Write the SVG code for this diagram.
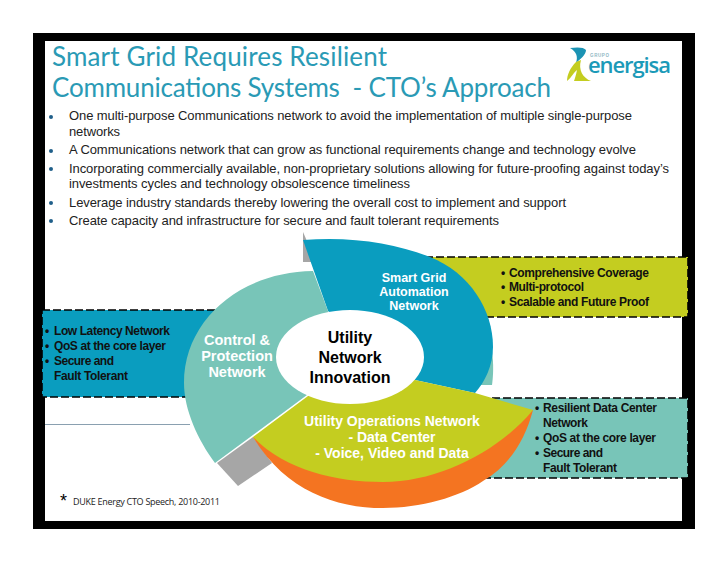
<svg xmlns="http://www.w3.org/2000/svg" width="728" height="563" viewBox="0 0 728 563">
<style>
.title{font-family:Lato,"Open Sans",sans-serif;font-size:26px;fill:#2a9ab5;white-space:pre}
.body{font-family:"Liberation Sans",Arial,sans-serif;font-size:13px;fill:#222}
.bul{fill:#1f5f8a}
.box{stroke:#000;stroke-width:1.6;stroke-dasharray:8 3}
.bt{font-family:"Liberation Sans",Arial,sans-serif;font-size:12px;font-weight:700;fill:#111}
.wt{font-family:"Liberation Sans",Arial,sans-serif;font-weight:700;fill:#fff;text-anchor:middle}
.ct{font-family:"Liberation Sans",Arial,sans-serif;font-size:16px;font-weight:700;fill:#000;text-anchor:middle}
</style>
<rect width="728" height="563" fill="#fff"/>
<g id="frame">
<rect x="33" y="33" width="662" height="496" fill="#000"/>
<rect x="45" y="41" width="637" height="480" fill="#fff"/>
<line x1="45" y1="424.500" x2="190" y2="424.500" stroke="#8aa0b0" stroke-width="1"/>
</g>
<g id="title">
<text class="title" x="52" y="66" textLength="335">Smart Grid Requires Resilient</text>
<text class="title" x="52" y="97" textLength="499">Communications Systems  - CTO’s Approach</text>
</g>
<g id="logo">
<path d="M570 48 C577 47 584 47 586 50 C586 55 580 59 576 63 C578 57 577 52 570 48Z" fill="#1b93b4"/>
<path d="M576 62 C570 68 567 75 567 81 C572 77 574 72 577 70 C576 75 575 78 574 81 L591 81 C583 78 578 70 581 60Z" fill="#c4cd20"/>
<text x="590" y="57" font-family="Liberation Sans,sans-serif" font-size="4.500" font-weight="700" fill="#8fb8c4" textLength="19">GRUPO</text>
<text x="588" y="73" font-family="Open Sans,sans-serif" font-size="22" font-weight="600" fill="#1b9ab8" textLength="83">energisa</text>
</g>
<g id="bullets">
<circle class="bul" cx="51" cy="117" r="2"/><circle class="bul" cx="51" cy="151" r="2"/><circle class="bul" cx="51" cy="169" r="2"/><circle class="bul" cx="51" cy="203" r="2"/><circle class="bul" cx="51" cy="221" r="2"/>
<text class="body" x="69" y="120" textLength="563">One multi-purpose Communications network to avoid the implementation of multiple single-purpose</text>
<text class="body" x="69" y="136" textLength="51">networks</text>
<text class="body" x="69" y="154" textLength="567">A Communications network that can grow as functional requirements change and technology evolve</text>
<text class="body" x="69" y="173" textLength="600">Incorporating commercially available, non-proprietary solutions allowing for future-proofing against today’s</text>
<text class="body" x="69" y="188" textLength="341">investments cycles and technology obsolescence timeliness</text>
<text class="body" x="69" y="207" textLength="497">Leverage industry standards thereby lowering the overall cost to implement and support</text>
<text class="body" x="69" y="225" textLength="430">Create capacity and infrastructure for secure and fault tolerant requirements</text>
</g>
<g id="box-low-latency">
<rect class="box" x="42" y="310" width="190" height="87" fill="#0a9dbf"/>
<text class="bt" x="45" y="335">•</text><text class="bt" x="54" y="335" textLength="116">Low Latency Network</text>
<text class="bt" x="45" y="350">•</text><text class="bt" x="54" y="350" textLength="112">QoS at the core layer</text>
<text class="bt" x="45" y="365">•</text><text class="bt" x="54" y="365" textLength="60">Secure and</text>
<text class="bt" x="54" y="380" textLength="74">Fault Tolerant</text>
</g>
<g id="box-coverage">
<rect class="box" x="425" y="257" width="263" height="60" fill="#c4cd20"/>
<text class="bt" x="501" y="277">•</text><text class="bt" x="509" y="277" textLength="140">Comprehensive Coverage</text>
<text class="bt" x="501" y="291">•</text><text class="bt" x="509" y="291" textLength="75">Multi-protocol</text>
<text class="bt" x="501" y="306">•</text><text class="bt" x="509" y="306" textLength="140">Scalable and Future Proof</text>
</g>
<g id="box-resilient">
<rect class="box" x="470" y="398" width="218" height="80" fill="#78c5b8"/>
<text class="bt" x="535" y="412">•</text><text class="bt" x="543" y="412" textLength="114">Resilient Data Center</text>
<text class="bt" x="543" y="427" textLength="45">Network</text>
<text class="bt" x="535" y="442">•</text><text class="bt" x="543" y="442" textLength="113">QoS at the core layer</text>
<text class="bt" x="535" y="457">•</text><text class="bt" x="543" y="457" textLength="60">Secure and</text>
<text class="bt" x="543" y="472" textLength="74">Fault Tolerant</text>
</g>
<g id="gray-shadows">
<path d="M303 232 L303 262 L316 262 Z" fill="#a6a6a6"/>
<path d="M217 463 L238 486 L272 463 L253 437 Z" fill="#a6a6a6"/>
</g>
<g id="node-smart-grid">
<path d="M492 352 C494 365 493 378 492 385 L478 385 Z" fill="#78c5b8"/>
<path d="M303 240 C350 236 395 243 430 257 C470 273 493 310 493 347 C493 365 485 382 475 393 L415 380 L328 311 Z" fill="#0a9dbf"/>
<text class="wt" x="414" y="282" font-size="12.500">Smart Grid</text>
<text class="wt" x="414" y="296" font-size="12.500">Automation</text>
<text class="wt" x="414" y="310" font-size="12.500">Network</text>
</g>
<g id="node-control">
<path d="M313 271 C240 272 184 320 184 383 C184 410 198 440 215 463 L307 395 L340 340 L328 311 Z" fill="#78c5b8"/>
<text class="wt" x="237" y="345" font-size="14.500">Control &amp;</text>
<text class="wt" x="237" y="361" font-size="14.500">Protection</text>
<text class="wt" x="237" y="377" font-size="14.500">Network</text>
</g>
<g id="node-operations">
<path d="M253 437 C285 490 335 508 383 508 C420 508 460 497 483 481 C510 465 525 440 533 410 L400 440 Z" fill="#f47421"/>
<path d="M253 437 L308 396 L350 380 L415 380 L475 393 L533 410 C500 450 440 482 383 482 C335 482 285 470 253 437 Z" fill="#c4cd20"/>
<text class="wt" x="392" y="426" font-size="14">Utility Operations Network</text>
<text class="wt" x="392" y="442" font-size="14">- Data Center</text>
<text class="wt" x="392" y="458" font-size="14">- Voice, Video and Data</text>
</g>
<g id="node-center">
<ellipse cx="350" cy="357" rx="74" ry="47" fill="#fff"/>
<text class="ct" x="350" y="343">Utility</text>
<text class="ct" x="350" y="363">Network</text>
<text class="ct" x="350" y="383">Innovation</text>
</g>
<g id="footnote">
<text x="60" y="507" font-family="Liberation Sans,sans-serif" font-size="18" fill="#000">*</text>
<text x="73" y="505" font-family="Open Sans,sans-serif" font-size="9" fill="#222" textLength="147">DUKE Energy CTO Speech, 2010-2011</text>
</g>
</svg>
